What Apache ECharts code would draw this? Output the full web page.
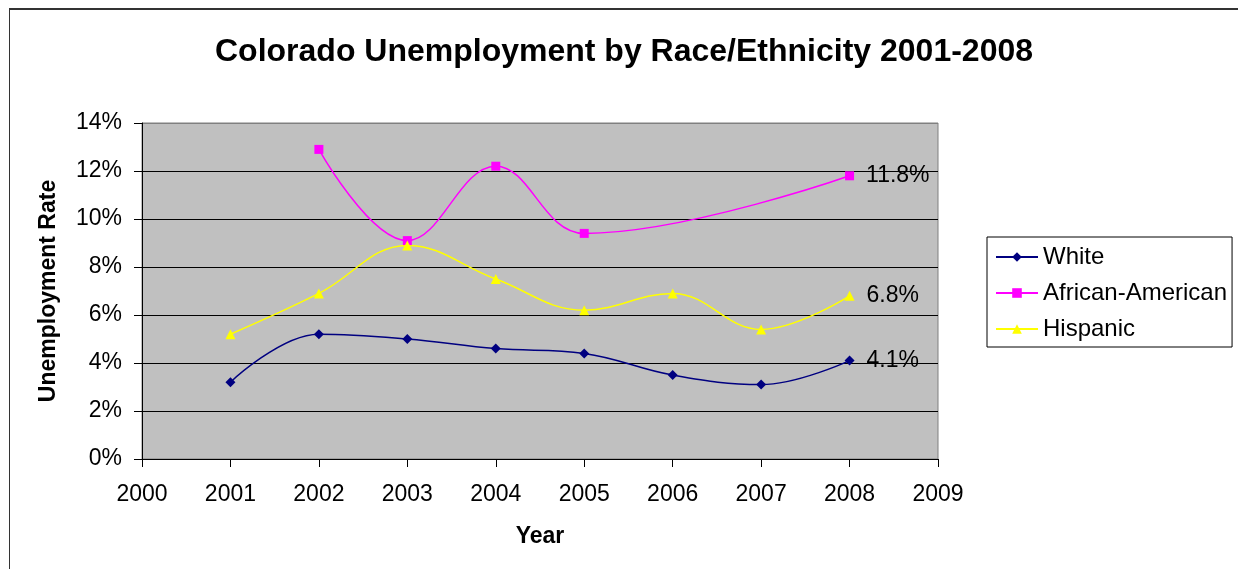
<!DOCTYPE html>
<html>
<head>
<meta charset="utf-8">
<title>Colorado Unemployment by Race/Ethnicity 2001-2008</title>
<script src="https://cdn.jsdelivr.net/npm/echarts@6/dist/echarts.min.js"></script>
<style>
  html, body { margin: 0; padding: 0; background: #fff; }
  #chart { width: 1238px; height: 569px; }
</style>
</head>
<body>
<div id="chart"></div>
<script>
// Unemployment rate (%) by year; null = no figure published for that year
const years = [2001, 2002, 2003, 2004, 2005, 2006, 2007, 2008];
const white = [3.2, 5.2, 5.0, 4.6, 4.4, 3.5, 3.1, 4.1];
const africanAmerican = [null, 12.9, 9.1, 12.2, 9.4, null, null, 11.8];
const hispanic = [5.2, 6.9, 8.9, 7.5, 6.2, 6.9, 5.4, 6.8];

const seriesNames = ['White', 'African-American', 'Hispanic'];
const yTicks = [0, 2, 4, 6, 8, 10, 12, 14];

const FONT = '"Liberation Sans", Arial, Helvetica, sans-serif';

// Pair each value with its year; the last point carries a value label
function buildPoints(values) {
  const pts = [];
  values.forEach((v, i) => {
    if (v === null) return;
    pts.push({ value: [years[i], v] });
  });
  const last = pts[pts.length - 1];
  last.label = {
    show: true,
    position: 'right',
    distance: 12,
    fontFamily: FONT,
    fontSize: 23,
    color: '#000',
    formatter: p => p.value[1].toFixed(1) + '%'
  };
  return pts;
}

function lineSeries(name, values, color, symbol, size) {
  return {
    name: name,
    type: 'line',
    data: buildPoints(values),
    smooth: 0.4,
    symbol: symbol,
    symbolSize: size,
    showAllSymbol: true,
    lineStyle: { color: color, width: 1.5 },
    itemStyle: { color: color },
    emphasis: { disabled: true },
    z: 3
  };
}

const chart = echarts.init(document.getElementById('chart'), null, { renderer: 'canvas' });

chart.setOption({
  animation: false,
  backgroundColor: '#fff',
  title: {
    text: 'Colorado Unemployment by Race/Ethnicity 2001-2008',
    left: 619,
    top: 31,
    textAlign: 'center',
    textStyle: { fontFamily: FONT, fontSize: 32, fontWeight: 'bold', color: '#000' }
  },
  legend: {
    orient: 'vertical',
    left: 987,
    top: 237,
    data: seriesNames,
    backgroundColor: '#fff',
    borderColor: '#000',
    borderWidth: 1,
    borderRadius: 0,
    padding: [8, 5, 6, 8],
    itemGap: 12,
    itemWidth: 42,
    itemHeight: 12,
    textStyle: { fontFamily: FONT, fontSize: 24, color: '#000', padding: [0, 0, 0, 0] }
  },
  grid: {
    left: 142,
    right: 300,
    top: 123,
    bottom: 110,
    show: true,
    backgroundColor: '#C0C0C0',
    borderColor: '#808080',
    borderWidth: 1
  },
  xAxis: {
    type: 'value',
    min: 2000,
    max: 2009,
    interval: 1,
    name: 'Year',
    nameLocation: 'middle',
    nameGap: 66,
    nameTextStyle: { fontFamily: FONT, fontSize: 23, fontWeight: 'bold', color: '#000' },
    axisLine: { show: true, onZero: false, lineStyle: { color: '#000', width: 1 } },
    axisTick: { show: true, length: 8, lineStyle: { color: '#000' } },
    axisLabel: {
      show: true,
      showMinLabel: true,
      showMaxLabel: true,
      margin: 24,
      fontFamily: FONT,
      fontSize: 23,
      color: '#000',
      formatter: v => String(v)
    },
    splitLine: { show: false }
  },
  yAxis: {
    type: 'value',
    min: yTicks[0],
    max: yTicks[yTicks.length - 1],
    interval: 2,
    name: 'Unemployment Rate',
    nameLocation: 'middle',
    nameGap: 82,
    nameTextStyle: { fontFamily: FONT, fontSize: 23, fontWeight: 'bold', color: '#000' },
    axisLine: { show: true, onZero: false, lineStyle: { color: '#000', width: 1 } },
    axisTick: { show: true, length: 8, lineStyle: { color: '#000' } },
    axisLabel: {
      show: true,
      showMinLabel: true,
      showMaxLabel: true,
      margin: 20,
      fontFamily: FONT,
      fontSize: 23,
      color: '#000',
      formatter: v => v + '%'
    },
    splitLine: {
      show: true,
      lineStyle: {
        color: yTicks.map((t, i) => (i === yTicks.length - 1 ? '#808080' : '#000')),
        width: 1
      }
    }
  },
  graphic: [
    // document frame around the chart
    { type: 'line', shape: { x1: 9, y1: 9, x2: 1238, y2: 9 }, style: { stroke: '#333', lineWidth: 2 }, silent: true },
    { type: 'line', shape: { x1: 9.5, y1: 9, x2: 9.5, y2: 569 }, style: { stroke: '#333', lineWidth: 1 }, silent: true }
  ],
  series: [
    lineSeries(seriesNames[0], white, '#000080', 'diamond', 10),
    lineSeries(seriesNames[1], africanAmerican, '#FF00FF', 'rect', 9),
    lineSeries(seriesNames[2], hispanic, '#FFFF00', 'triangle', 10)
  ]
});
</script>
</body>
</html>
